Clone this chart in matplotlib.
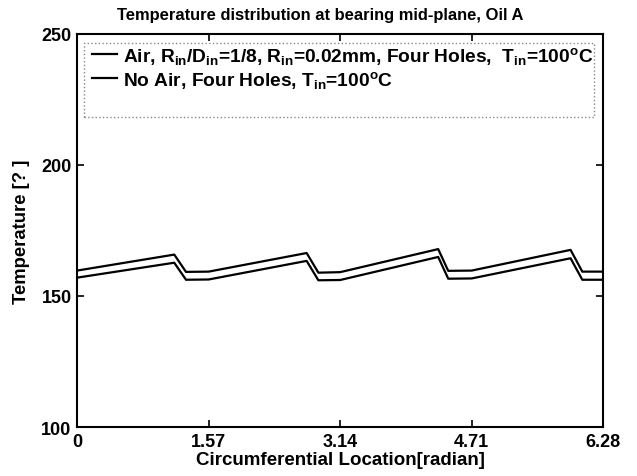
import matplotlib
matplotlib.use("Agg")
import matplotlib.pyplot as plt
from matplotlib.patches import Rectangle

plt.rcParams['font.family'] = ['Liberation Sans', 'DejaVu Sans']
plt.rcParams['font.weight'] = 'bold'
plt.rcParams['mathtext.fontset'] = 'custom'
plt.rcParams['mathtext.rm'] = 'Liberation Sans:bold'
plt.rcParams['mathtext.it'] = 'Liberation Sans:bold'
plt.rcParams['mathtext.bf'] = 'Liberation Sans:bold'
plt.rcParams['mathtext.default'] = 'regular'

# Data
location = [0, 1.16, 1.30, 1.57, 2.74, 2.88, 3.14, 4.31, 4.43, 4.71, 5.89, 6.03, 6.28]
temp_air = [159.7, 165.8, 159.2, 159.3, 166.4, 158.9, 159.1, 167.9, 159.6, 159.7, 167.6, 159.3, 159.3]
temp_noair = [157.0, 162.7, 156.2, 156.3, 163.4, 156.0, 156.1, 164.9, 156.6, 156.7, 164.4, 156.2, 156.2]

xticks = [0, 1.57, 3.14, 4.71, 6.28]
xticklabels = ['0', '1.57', '3.14', '4.71', '6.28']
yticks = [100, 150, 200, 250]

label_air = r'Air, R$_{in}$/D$_{in}$=1/8, R$_{in}$=0.02mm, Four Holes,  T$_{in}$=100$^{o}$C'
label_noair = r'No Air, Four Holes, T$_{in}$=100$^{o}$C'

fig = plt.figure(figsize=(6.37, 4.77), dpi=100)
ax = fig.add_axes([0.121, 0.1027, 0.826, 0.824])

ax.plot(location, temp_air, color='black', lw=1.6, label=label_air)
ax.plot(location, temp_noair, color='black', lw=1.6, label=label_noair)

ax.set_xlim(0, 6.28)
ax.set_ylim(100, 250)
ax.set_xticks(xticks)
ax.set_xticklabels(xticklabels)
ax.set_yticks(yticks)
ax.tick_params(direction='in', top=True, right=True, length=5, width=1.2,
               labelsize=13, pad=4)
for lab in ax.get_xticklabels() + ax.get_yticklabels():
    lab.set_fontweight('bold')
for sp in ax.spines.values():
    sp.set_linewidth(1.5)

ax.set_title('Temperature distribution at bearing mid-plane, Oil A',
             fontsize=11.9, fontweight='bold', pad=11, x=0.462)
ax.set_xlabel('Circumferential Location[radian]', fontsize=13.5, fontweight='bold', labelpad=1)
ax.set_ylabel('Temperature [? ]', fontsize=13.3, fontweight='bold', labelpad=8)

# legend box (dotted grey frame)
box = Rectangle((0.0125, 0.79), 0.9705, 0.188, transform=ax.transAxes,
                fill=False, edgecolor='#888888', linestyle=':', linewidth=1.0, zorder=4)
ax.add_patch(box)

leg = ax.legend(loc='upper left', bbox_to_anchor=(0.0285, 0.972),
                fontsize=13.8, frameon=False, handlelength=1.3, handletextpad=0.3,
                borderaxespad=0, borderpad=0, labelspacing=0.15)
for t in leg.get_texts():
    t.set_fontweight('bold')

fig.savefig('out.png', dpi=100)
